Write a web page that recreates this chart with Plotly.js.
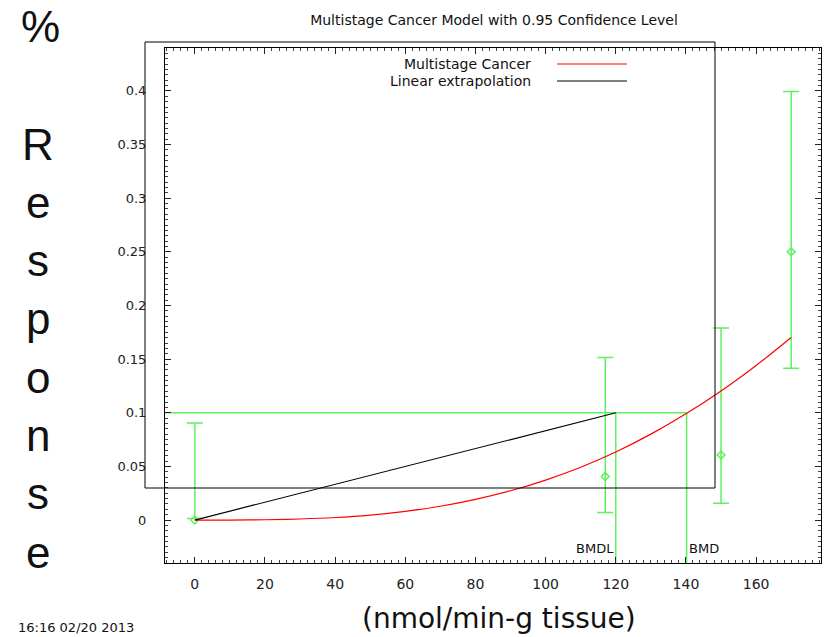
<!DOCTYPE html>
<html>
<head>
<meta charset="utf-8">
<script src="https://cdn.plot.ly/plotly-3.0.1.min.js"></script>
<style>html,body{margin:0;padding:0;background:#fff;}#plot{width:825px;height:637px;}</style>
</head>
<body>
<div id="plot"></div>
<script>
// Observed data (dose, response, confidence limits)
const doses = [0, 117, 150, 170];
const response = [0, 0.0406, 0.0607, 0.25];
const ciLower = [0.0014, 0.0070, 0.0157, 0.1416];
const ciUpper = [0.0906, 0.1516, 0.179, 0.3994];

// Fitted multistage cancer curve
const curveDose = [0, 10, 20, 30, 40, 50, 60, 70, 80, 90, 100, 110, 120, 130, 140, 150, 160, 170];
const curveResp = [0, 0.00004, 0.0003, 0.00103, 0.0024, 0.0047, 0.0082, 0.0129, 0.0193, 0.0273, 0.0373, 0.0493, 0.0635, 0.0801, 0.0990, 0.1203, 0.1441, 0.1702];

// Benchmark values
const BMR = 0.1;
const BMD = 140.2;
const BMDL = 120.0;

const xTicks = [0, 20, 40, 60, 80, 100, 120, 140, 160];
const yTicks = [0, 0.05, 0.1, 0.15, 0.2, 0.25, 0.3, 0.35, 0.4];
const yTickText = ['0', '0.05', '0.1', '0.15', '0.2', '0.25', '0.3', '0.35', '0.4'];
const xRange = [-8.5, 178.5];
const yRange = [-0.04, 0.44];

const green = 'rgb(95,240,95)';
const font = 'DejaVu Sans, Liberation Sans, Arial, sans-serif';
const fontA = 'Liberation Sans, Arial, sans-serif';

const traces = [
  { // BMR horizontal line
    x: [xRange[0], BMD], y: [BMR, BMR], mode: 'lines',
    line: {color: green, width: 1.5}, hoverinfo: 'skip', showlegend: false
  },
  { // BMDL vertical
    x: [BMDL, BMDL], y: [BMR, yRange[0]], mode: 'lines',
    line: {color: green, width: 1.5}, hoverinfo: 'skip', showlegend: false
  },
  { // BMD vertical
    x: [BMD, BMD], y: [BMR, yRange[0]], mode: 'lines',
    line: {color: green, width: 1.5}, hoverinfo: 'skip', showlegend: false
  },
  { // data with CIs
    x: doses, y: response, mode: 'markers',
    marker: {symbol: 'diamond-open', size: 6, color: green, line: {width: 1.5, color: green}},
    error_y: {
      type: 'data', symmetric: false,
      array: ciUpper.map((u, i) => u - response[i]),
      arrayminus: response.map((r, i) => r - ciLower[i]),
      color: green, thickness: 1.5, width: 8
    },
    showlegend: false
  },
  { // model curve
    x: curveDose, y: curveResp, mode: 'lines',
    line: {color: 'rgb(255,0,0)', width: 1.2, shape: 'spline'}, showlegend: false
  },
  { // linear extrapolation
    x: [0, BMDL], y: [0, BMR], mode: 'lines',
    line: {color: 'black', width: 1.2}, showlegend: false
  }
];

const L = 165, R = 821, T = 48, B = 563;
const px = v => (v - L) / (R - L);
const py = v => (B - v) / (B - T);

const annotations = [
  {text: 'BMDL', x: BMDL, y: -0.0265, xref: 'x', yref: 'y', xanchor: 'right', yanchor: 'middle', showarrow: false,
   font: {family: font, size: 13, color: '#111'}},
  {text: 'BMD', x: BMD, y: -0.0265, xref: 'x', yref: 'y', xanchor: 'left', yanchor: 'middle', showarrow: false,
   font: {family: font, size: 13, color: '#111'}},
  {text: 'Multistage Cancer', x: px(533), y: py(64), xref: 'paper', yref: 'paper', xanchor: 'right', yanchor: 'middle', showarrow: false,
   font: {family: font, size: 14, color: '#111'}},
  {text: 'Linear extrapolation', x: px(533), y: py(81), xref: 'paper', yref: 'paper', xanchor: 'right', yanchor: 'middle', showarrow: false,
   font: {family: font, size: 14, color: '#111'}},
  {text: '(nmol/min-g tissue)', x: px(499), y: py(618), xref: 'paper', yref: 'paper', xanchor: 'center', yanchor: 'middle', showarrow: false,
   font: {family: font, size: 28, color: '#111'}},
  {text: '16:16 02/20 2013', x: px(16), y: py(627), xref: 'paper', yref: 'paper', xanchor: 'left', yanchor: 'middle', showarrow: false,
   font: {family: font, size: 13, color: '#111'}},
  {text: '%', x: px(40), y: py(27), xref: 'paper', yref: 'paper', xanchor: 'center', yanchor: 'middle', showarrow: false,
   font: {family: fontA, size: 44, color: '#111'}}
];
const letters = ['R', 'e', 's', 'p', 'o', 'n', 's', 'e'];
letters.forEach((ch, i) => {
  annotations.push({text: ch, x: px(38), y: py(144 + i * 58.3), xref: 'paper', yref: 'paper', xanchor: 'center', yanchor: 'middle',
    showarrow: false, font: {family: fontA, size: 44, color: '#111'}});
});

const shapes = [
  // key box
  {type: 'rect', xref: 'paper', yref: 'paper', x0: px(145), x1: px(715), y0: py(488), y1: py(42),
   line: {color: 'black', width: 1}, fillcolor: 'rgba(0,0,0,0)', layer: 'above'},
  // legend samples
  {type: 'line', xref: 'paper', yref: 'paper', x0: px(557), x1: px(627), y0: py(64), y1: py(64),
   line: {color: 'rgb(255,0,0)', width: 1.2}},
  {type: 'line', xref: 'paper', yref: 'paper', x0: px(557), x1: px(627), y0: py(81), y1: py(81),
   line: {color: 'black', width: 1.2}}
];

const axisCommon = {
  showgrid: false, zeroline: false, showline: true, linecolor: 'black', linewidth: 1,
  mirror: 'ticks', ticks: 'inside', ticklen: 6, tickcolor: '#222', tickwidth: 1,
  tickfont: {family: font, size: 13, color: '#222'}
};

const layout = {
  width: 825, height: 637,
  margin: {l: L, r: 825 - R, t: T, b: 637 - B, pad: 0},
  paper_bgcolor: 'white', plot_bgcolor: 'white',
  title: {text: 'Multistage Cancer Model with 0.95 Confidence Level', x: px(494), xref: 'paper', xanchor: 'center',
          y: 1 - 20 / 637, yref: 'container', yanchor: 'middle',
          font: {family: font, size: 14, color: '#111'}},
  xaxis: Object.assign({}, axisCommon, {
    range: xRange, tickvals: xTicks, ticktext: xTicks.map(String), ticklabelstandoff: 8,
    tickfont: {family: font, size: 14, color: '#222'},
    minor: {ticks: 'inside', dtick: 2, ticklen: 3, tickcolor: '#444', tick0: 0}
  }),
  yaxis: Object.assign({}, axisCommon, {
    range: yRange, tickvals: yTicks, ticktext: yTickText, ticklabelstandoff: 15,
    minor: {ticks: 'inside', dtick: 0.005, ticklen: 3, tickcolor: '#444', tick0: 0}
  }),
  annotations: annotations,
  shapes: shapes,
  showlegend: false
};

Plotly.newPlot('plot', traces, layout, {displayModeBar: false, staticPlot: true});
</script>
</body>
</html>
